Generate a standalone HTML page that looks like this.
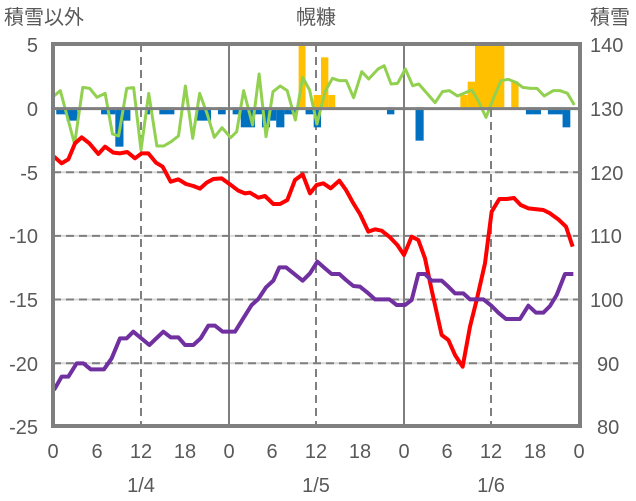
<!DOCTYPE html>
<html><head><meta charset="utf-8"><style>
html,body{margin:0;padding:0;background:#fff;}
svg{display:block;font-family:"Liberation Sans","Noto Sans CJK JP",sans-serif;}
</style></head><body>
<svg width="636" height="501" viewBox="0 0 636 501" xmlns="http://www.w3.org/2000/svg">
<rect width="636" height="501" fill="#fff"/>
<!-- horizontal grid -->
<g stroke="#d9d9d9" stroke-width="2">
<line x1="53" y1="172.2" x2="580" y2="172.2"/><line x1="53" y1="235.9" x2="580" y2="235.9"/><line x1="53" y1="299.5" x2="580" y2="299.5"/><line x1="53" y1="363.2" x2="580" y2="363.2"/>
</g>
<g stroke="#7f7f7f" stroke-width="2" stroke-dasharray="8,5">
<line x1="53" y1="172.2" x2="580" y2="172.2"/><line x1="53" y1="235.9" x2="580" y2="235.9"/><line x1="53" y1="299.5" x2="580" y2="299.5"/><line x1="53" y1="363.2" x2="580" y2="363.2"/>
<line x1="141" y1="44" x2="141" y2="426"/><line x1="316" y1="44" x2="316" y2="426"/><line x1="491" y1="44" x2="491" y2="426"/>
</g>
<g stroke="#7f7f7f" stroke-width="2">
<line x1="229" y1="44" x2="229" y2="426"/><line x1="404" y1="44" x2="404" y2="426"/>
</g>
<!-- bars & green in zoom1 coords -->
<g transform="translate(53,0) scale(0.40733,0.33333) translate(-132,0)">
<g fill="#0070c0">
<rect x="140" y="322" width="25" height="21"/><rect x="165" y="322" width="27" height="40"/>
<rect x="250" y="322" width="35" height="21"/><rect x="285" y="322" width="20" height="118"/><rect x="305" y="322" width="17" height="40"/>
<rect x="360" y="322" width="10" height="21"/><rect x="393" y="322" width="37" height="21"/><rect x="485" y="322" width="35" height="40"/>
<rect x="537" y="322" width="19" height="21"/><rect x="573" y="322" width="20" height="21"/><rect x="593" y="322" width="35" height="60"/>
<rect x="628" y="322" width="17" height="21"/><rect x="645" y="322" width="20" height="60"/><rect x="665" y="322" width="15" height="40"/>
<rect x="680" y="322" width="20" height="60"/><rect x="700" y="322" width="30" height="21"/><rect x="752" y="322" width="20" height="21"/>
<rect x="772" y="322" width="18" height="60"/><rect x="952" y="322" width="18" height="21"/><rect x="1022" y="322" width="20" height="100"/>
<rect x="1293" y="322" width="37" height="21"/><rect x="1347" y="322" width="36" height="21"/><rect x="1383" y="322" width="19" height="60"/>
</g>
<g fill="#ffc000">
<rect x="735" y="135" width="17" height="187"/><rect x="772" y="285" width="18" height="37"/><rect x="790" y="172" width="18" height="150"/>
<rect x="808" y="285" width="17" height="37"/><rect x="1132" y="285" width="18" height="37"/><rect x="1150" y="245" width="18" height="77"/>
<rect x="1168" y="135" width="72" height="187"/><rect x="1257" y="245" width="18" height="77"/>
</g>
<polyline fill="none" stroke="#92d050" stroke-width="3" vector-effect="non-scaling-stroke" stroke-linejoin="round" points="132,290 150,272 185,432 205,262 222,265 240,292 260,280 278,402 293,408 313,265 330,263 348,450 367,280 387,438 404,438 422,425 440,408 457,258 475,415 492,280 510,340 528,412 547,383 568,413 583,395 600,272 622,375 638,222 655,410 672,275 690,258 707,272 727,360 745,232 762,270 780,372 800,275 818,235 835,242 852,242 870,293 890,215 907,237 930,207 945,197 962,252 978,250 997,207 1015,257 1030,252 1070,308 1088,275 1105,272 1125,288 1160,270 1175,300 1195,352 1215,290 1232,242 1250,238 1270,248 1285,262 1305,265 1320,265 1338,288 1360,272 1377,272 1395,280 1412,315"/>
</g>
<!-- zero line -->
<line x1="53" y1="108.6" x2="580" y2="108.6" stroke="#7f7f7f" stroke-width="3"/>
<!-- red & purple in zoom4 coords -->
<g transform="translate(50,130) scale(0.33333)" fill="none" stroke-width="4" stroke-linejoin="round" vector-effect="non-scaling-stroke">
<polyline stroke="#ff0000" vector-effect="non-scaling-stroke" points="12,80 35,100 55,88 75,40 95,22 118,40 145,72 165,50 190,68 210,70 232,66 255,85 275,70 295,70 318,98 338,110 362,155 385,148 408,162 430,168 450,176 470,158 490,147 515,145 540,163 565,182 585,190 600,188 625,203 645,198 670,222 690,222 712,210 735,150 758,133 780,190 800,165 820,160 842,175 868,152 888,180 910,220 930,252 955,305 975,298 995,302 1020,322 1042,345 1062,375 1085,320 1105,330 1125,385 1145,480 1175,615 1195,630 1215,675 1238,710 1260,590 1280,510 1305,400 1325,245 1348,207 1370,207 1392,204 1412,225 1435,235 1480,240 1500,250 1525,268 1548,290 1568,350"/>
<polyline stroke="#7030a0" vector-effect="non-scaling-stroke" points="12,780 35,740 55,740 80,700 100,700 122,718 162,718 185,685 210,625 230,625 250,605 298,645 340,605 362,622 385,622 405,645 430,645 452,625 475,587 495,587 518,605 555,605 578,568 605,525 625,507 648,472 670,452 688,412 708,412 758,452 780,430 802,395 825,415 845,432 868,432 888,450 910,468 930,470 955,490 975,508 1018,508 1040,525 1065,525 1085,510 1105,432 1125,432 1145,452 1175,452 1195,470 1215,490 1240,490 1260,508 1300,508 1325,528 1345,548 1368,567 1410,567 1435,527 1458,548 1480,548 1500,528 1520,495 1545,432 1570,432"/>
</g>
<!-- frame -->
<rect x="53" y="44" width="527" height="382" fill="none" stroke="#7f7f7f" stroke-width="4"/>
<!-- labels -->
<g fill="#595959" font-size="20">
<g text-anchor="end">
<text x="38" y="52">5</text><text x="38" y="116">0</text><text x="38" y="180">-5</text><text x="38" y="243">-10</text><text x="38" y="307">-15</text><text x="38" y="371">-20</text><text x="38" y="434">-25</text>
</g>
<g text-anchor="start">
<text x="590" y="52">140</text><text x="590" y="116">130</text><text x="590" y="180">120</text><text x="590" y="243">110</text><text x="590" y="307">100</text><text x="597" y="371">90</text><text x="597" y="434">80</text>
</g>
<g text-anchor="middle">
<text x="53" y="458">0</text><text x="97" y="458">6</text><text x="141" y="458">12</text><text x="185" y="458">18</text>
<text x="229" y="458">0</text><text x="272" y="458">6</text><text x="316" y="458">12</text><text x="360" y="458">18</text>
<text x="404" y="458">0</text><text x="447" y="458">6</text><text x="491" y="458">12</text><text x="535" y="458">18</text><text x="579" y="458">0</text>
<text x="141" y="492">1/4</text><text x="316" y="492">1/5</text><text x="491" y="492">1/6</text>
<text x="316" y="24">幌糠</text>
</g>
<text x="4" y="24">積雪以外</text>
<text x="590" y="24">積雪</text>
</g>
</svg>
</body></html>
